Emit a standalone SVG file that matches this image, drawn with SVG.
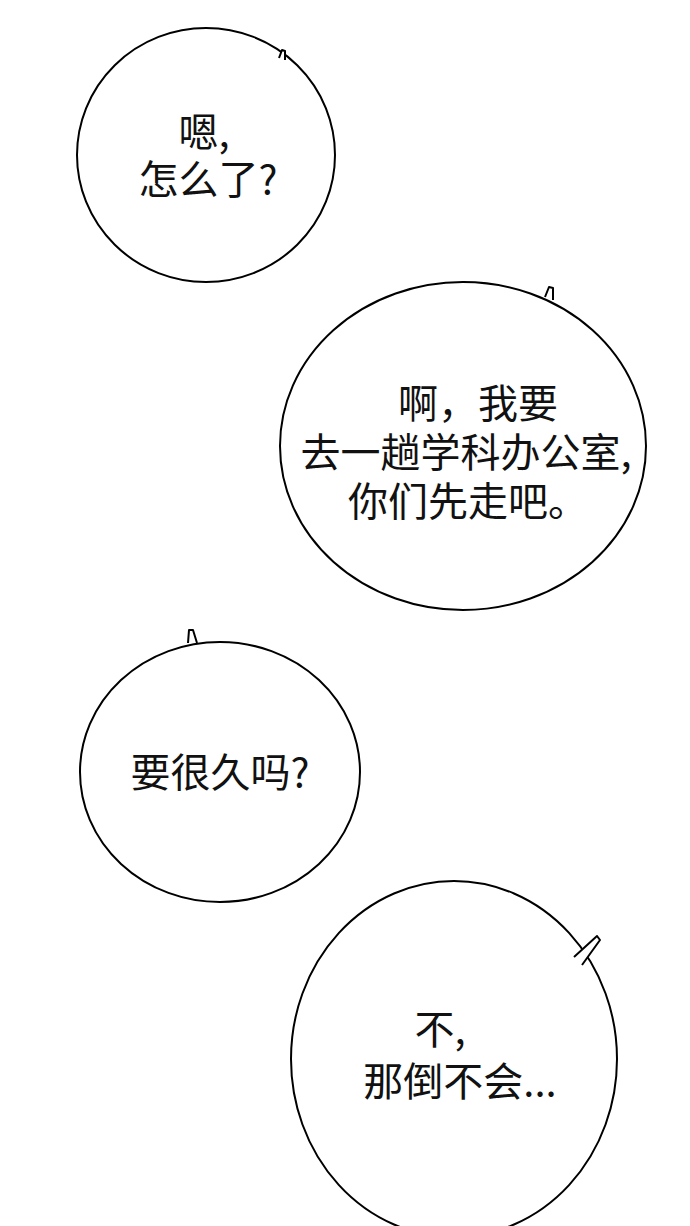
<svg xmlns="http://www.w3.org/2000/svg" width="690" height="1226" viewBox="0 0 690 1226">
<style>
.b{fill:#fff;stroke:#000;stroke-width:2}
.t{fill:#fff;stroke:#000;stroke-width:2;stroke-linejoin:round}
text{font-family:"Noto Sans CJK SC","Noto Sans",sans-serif;font-size:40px;fill:#111;text-anchor:middle}
</style>
<rect width="690" height="1226" fill="#fff"/>
<g id="bubble1">
<ellipse class="b" cx="206" cy="155" rx="129" ry="127"/>
<path class="t" d="M279,58 L282,50 L285,51 L285,60"/>
<text x="204" y="147">嗯,</text>
<text x="208" y="194">怎么了?</text>
</g>
<g id="bubble2">
<ellipse class="b" cx="463" cy="446" rx="183" ry="164"/>
<path class="t" d="M545,297 L549,287 L553,288 L553,300"/>
<text x="478" y="418">啊，我要</text>
<text x="466" y="467">去一趟学科办公室,</text>
<text x="468" y="516">你们先走吧。</text>
</g>
<g id="bubble3">
<ellipse class="b" cx="220" cy="772" rx="140" ry="130"/>
<path class="t" d="M188,643 L189,630 L193,630 L197,643"/>
<text x="220" y="787">要很久吗?</text>
</g>
<g id="bubble4">
<ellipse class="b" cx="454" cy="1059" rx="163" ry="178"/>
<path class="t" d="M574,957 L597,936 L600,940 L582,965"/>
<text x="440" y="1044">不,</text>
<text x="460" y="1096">那倒不会...</text>
</g>
<g id="connectors"></g>
</svg>
